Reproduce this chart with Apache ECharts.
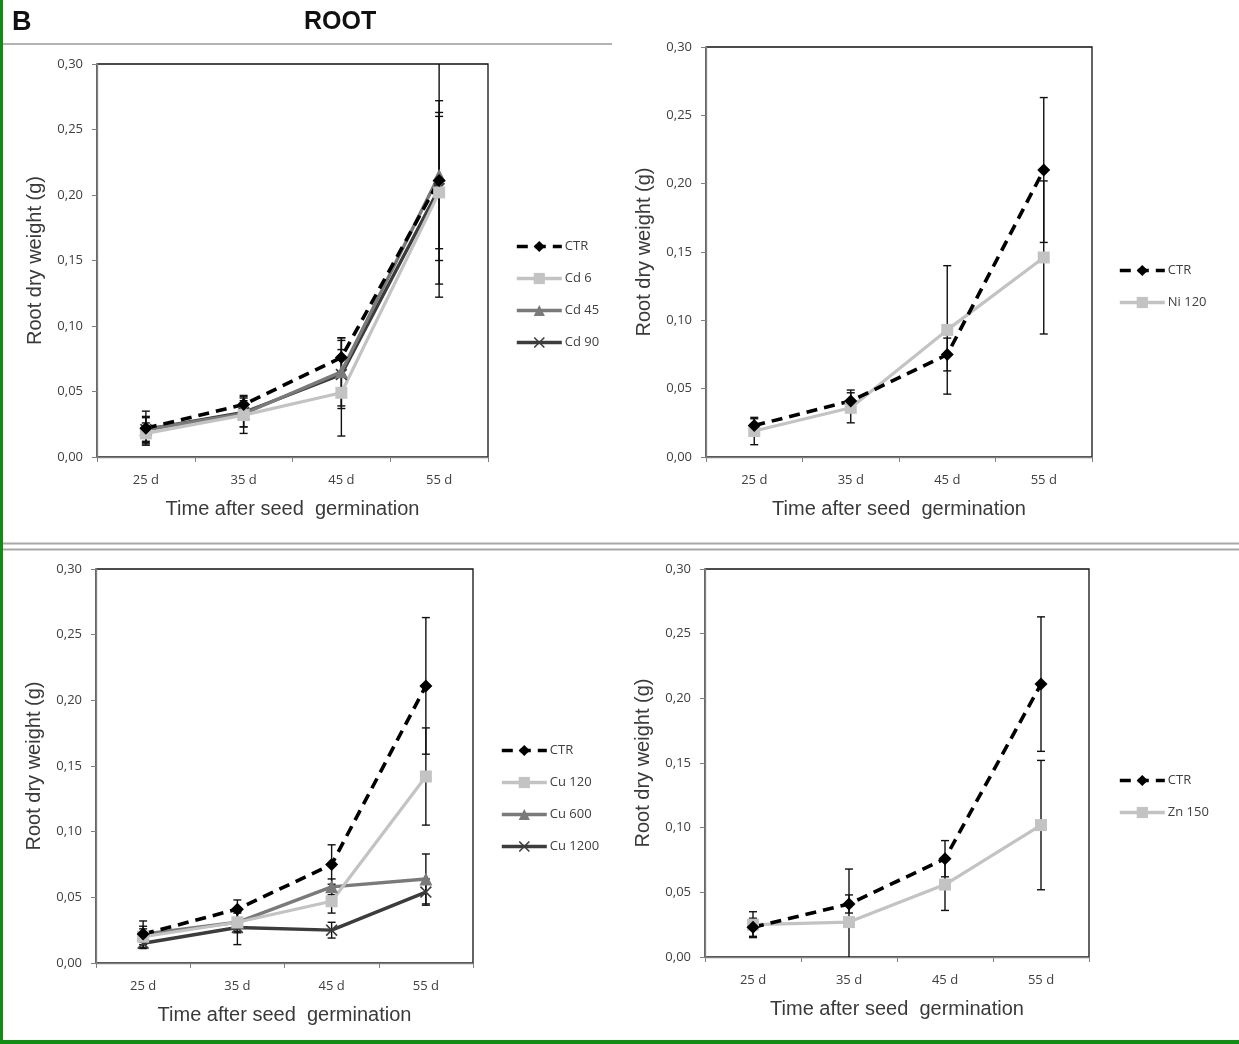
<!DOCTYPE html>
<html><head><meta charset="utf-8">
<script src="https://cdn.jsdelivr.net/npm/echarts@6/dist/echarts.min.js"></script>
<style>html,body{margin:0;padding:0;background:#fff}#c{width:1239px;height:1044px}</style>
</head><body><div id="c"></div>
<script>
// ---- data ----
const categories = ['25 d', '35 d', '45 d', '55 d'];
const yMin = 0, yMax = 0.30, yStep = 0.05;

// Panel 1: Cd
const ctrCd = [0.022, 0.040, 0.076, 0.211];
const ctrCdErr = [0.013, 0.007, 0.015, 0.052];
const cd6 = [0.018, 0.032, 0.049, 0.202];
const cd6Err = [0.008, 0.014, 0.033, 0.070];
const cd45 = [0.021, 0.033, 0.065, 0.215];
const cd45Err = [0.010, 0.010, 0.026, 0.093];
const cd90 = [0.021, 0.034, 0.063, 0.205];
const cd90Err = [0.009, 0.011, 0.026, 0.055];

// Panel 2: Ni
const ctrNi = [0.023, 0.041, 0.075, 0.210];
const ctrNiErr = [0.005, 0.008, 0.012, 0.053];
const ni120 = [0.019, 0.036, 0.093, 0.146];
const ni120Err = [0.010, 0.011, 0.047, 0.056];

// Panel 3: Cu
const ctrCu = [0.022, 0.041, 0.075, 0.211];
const ctrCuErr = [0.010, 0.007, 0.015, 0.052];
const cu120 = [0.020, 0.031, 0.047, 0.142];
const cu120Err = [0.006, 0.008, 0.009, 0.037];
const cu600 = [0.022, 0.031, 0.058, 0.064];
const cu600Err = [0.006, 0.007, 0.006, 0.019];
const cu1200 = [0.015, 0.027, 0.025, 0.054];
const cu1200Err = [0.004, 0.013, 0.006, 0.010];

// Panel 4: Zn
const ctrZn = [0.023, 0.041, 0.076, 0.211];
const ctrZnErr = [0.007, 0.007, 0.014, 0.052];
const zn150 = [0.025, 0.027, 0.056, 0.102];
const zn150Err = [0.010, 0.041, 0.020, 0.050];

// ---- styles ----
const X_PATH = 'path://M0,1 L1,0 L5,4 L9,0 L10,1 L6,5 L10,9 L9,10 L5,6 L1,10 L0,9 L4,5 Z';
const STY = {
  ctr:   {color: '#000000', width: 3.6, type: [11, 7], symbol: 'diamond', size: 13},
  light: {color: '#c3c3c3', width: 3.2, type: 'solid', symbol: 'rect', size: 12},
  mid:   {color: '#7a7a7a', width: 3.4, type: 'solid', symbol: 'triangle', size: 13},
  dark:  {color: '#3c3c3c', width: 3.4, type: 'solid', symbol: X_PATH, size: 12}
};

const grids = [
  {left: 97, top: 64, width: 391, height: 393},
  {left: 706, top: 47, width: 386, height: 410},
  {left: 96, top: 569, width: 377, height: 394},
  {left: 705, top: 569, width: 384, height: 388}
];

const panels = [
  [['CTR', ctrCd, ctrCdErr, 'ctr'], ['Cd 6', cd6, cd6Err, 'light'], ['Cd 45', cd45, cd45Err, 'mid'], ['Cd 90', cd90, cd90Err, 'dark']],
  [['CTR', ctrNi, ctrNiErr, 'ctr'], ['Ni 120', ni120, ni120Err, 'light']],
  [['CTR', ctrCu, ctrCuErr, 'ctr'], ['Cu 120', cu120, cu120Err, 'light'], ['Cu 600', cu600, cu600Err, 'mid'], ['Cu 1200', cu1200, cu1200Err, 'dark']],
  [['CTR', ctrZn, ctrZnErr, 'ctr'], ['Zn 150', zn150, zn150Err, 'light']]
];

const legendPos = [
  {left: 515, top: 240},
  {left: 1118, top: 264},
  {left: 500, top: 744},
  {left: 1118, top: 774}
];

function errRender(params, api) {
  const x = api.value(0), lo = api.value(1), hi = api.value(2);
  const pLo = api.coord([x, lo]);
  const pHi = api.coord([x, hi]);
  const cs = params.coordSys;
  const top = cs.y, bot = cs.y + cs.height;
  const yHi = Math.max(pHi[1], top);
  const yLo = Math.min(pLo[1], bot);
  const cx = pLo[0], w = 4;
  const st = {stroke: '#111', lineWidth: 1.4};
  const ch = [{type: 'line', shape: {x1: cx, y1: yHi, x2: cx, y2: yLo}, style: st}];
  if (pHi[1] >= top) ch.push({type: 'line', shape: {x1: cx - w, y1: yHi, x2: cx + w, y2: yHi}, style: st});
  if (pLo[1] <= bot) ch.push({type: 'line', shape: {x1: cx - w, y1: yLo, x2: cx + w, y2: yLo}, style: st});
  return {type: 'group', children: ch};
}

const series = [];
const xAxes = [], yAxes = [], legends = [];
const fontTick = 'Open Sans';
panels.forEach((pan, gi) => {
  xAxes.push({
    type: 'category', gridIndex: gi, data: categories, boundaryGap: true,
    axisLine: {lineStyle: {color: '#808080', width: 1.3}},
    axisTick: {show: true, length: 5, lineStyle: {color: '#808080'}},
    axisLabel: {color: '#404040', fontSize: 13, fontFamily: fontTick, margin: 17},
    name: 'Time after seed  germination', nameLocation: 'middle', nameGap: 42,
    nameTextStyle: {fontSize: 20, color: '#3a3a3a', fontFamily: 'Liberation Sans'},
    splitLine: {show: false}
  });
  yAxes.push({
    type: 'value', gridIndex: gi, min: yMin, max: yMax, interval: yStep,
    axisLine: {show: true, lineStyle: {color: '#808080', width: 1.3}},
    axisTick: {show: true, length: 5, lineStyle: {color: '#808080'}},
    axisLabel: {color: '#404040', fontSize: 13, fontFamily: fontTick, margin: 14,
      formatter: v => v.toFixed(2).replace('.', ',')},
    name: 'Root dry weight (g)', nameLocation: 'middle', nameGap: 52, nameRotate: 90,
    nameTextStyle: {fontSize: 20, color: '#3a3a3a', fontFamily: 'Liberation Sans'},
    splitLine: {show: false}
  });
  legends.push({
    left: legendPos[gi].left, top: legendPos[gi].top, orient: 'vertical', padding: 0,
    itemWidth: 45, itemHeight: 14, itemGap: 19,
    lineStyle: {width: 3.6},
    textStyle: {fontSize: 13, color: '#404040', fontFamily: fontTick, padding: [0, 0, 0, -2]},
    data: pan.map(p => p[0]), selectedMode: false
  });
  pan.forEach(([name, vals, errs, sk]) => {
    series.push({
      type: 'custom', name: name + ' err' + gi, xAxisIndex: gi, yAxisIndex: gi,
      renderItem: errRender, z: 1, silent: true,
      encode: {x: 0, y: [1, 2]},
      data: vals.map((v, i) => [i, v - errs[i], v + errs[i]])
    });
  });
  pan.slice().reverse().forEach(([name, vals, errs, sk]) => {
    const s = STY[sk];
    series.push({
      type: 'line', name: name, xAxisIndex: gi, yAxisIndex: gi, data: vals,
      symbol: s.symbol, symbolSize: s.size, showSymbol: true, z: 2,
      lineStyle: {color: s.color, width: s.width, type: s.type},
      itemStyle: {color: s.color, borderWidth: 0},
      animation: false
    });
  });
});

const chart = echarts.init(document.getElementById('c'), null, {renderer: 'canvas'});
chart.setOption({
  animation: false,
  backgroundColor: '#ffffff',
  grid: grids.map(g => Object.assign({show: true, borderColor: '#111', borderWidth: 1.3, backgroundColor: 'transparent'}, g)),
  xAxis: xAxes, yAxis: yAxes, legend: legends, series: series,
  graphic: [
    {type: 'text', left: 12, top: 9, style: {text: 'B', fontSize: 27, fontWeight: 'bold', fill: '#111', fontFamily: 'Liberation Sans'}},
    {type: 'text', left: 304, top: 10, style: {text: 'ROOT', fontSize: 25, fontWeight: 'bold', fill: '#111', fontFamily: 'Liberation Sans'}},
    {type: 'line', shape: {x1: 0, y1: 44, x2: 612, y2: 44}, style: {stroke: '#9a9a9a', lineWidth: 1.5}},
    {type: 'line', shape: {x1: 0, y1: 543.5, x2: 1239, y2: 543.5}, style: {stroke: '#a8a8a8', lineWidth: 2}},
    {type: 'line', shape: {x1: 0, y1: 549.5, x2: 1239, y2: 549.5}, style: {stroke: '#a8a8a8', lineWidth: 2}},
    {type: 'rect', shape: {x: 0, y: 0, width: 3, height: 1044}, style: {fill: '#138c13'}},
    {type: 'rect', shape: {x: 0, y: 1040, width: 1239, height: 4}, style: {fill: '#138c13'}}
  ]
});
</script></body></html>
